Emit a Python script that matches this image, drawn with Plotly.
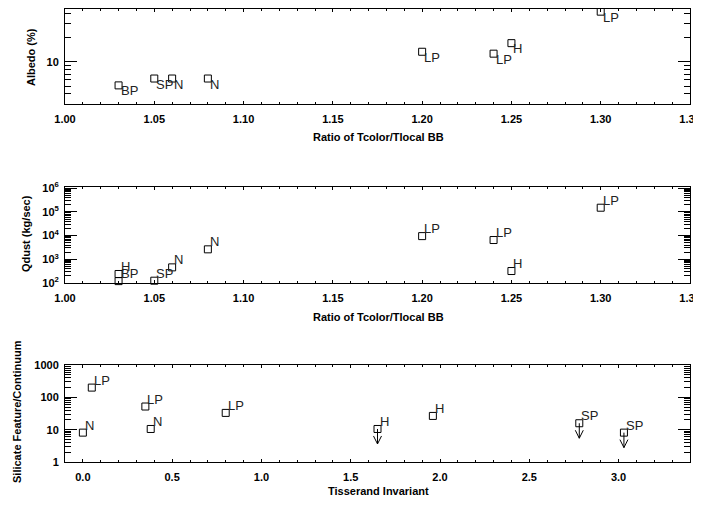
import numpy as np
import plotly.graph_objects as go

# ---------------- data ----------------
# Panel 1: albedo vs ratio of Tcolor/Tlocal BB
alb_ratio = [1.03, 1.05, 1.06, 1.08, 1.20, 1.24, 1.25, 1.30]
alb_value = [5.1, 6.2, 6.2, 6.2, 13.3, 12.6, 17.0, 41.7]
alb_label = ["BP", "SP", "N", "N", "LP", "LP", "H", "LP"]

# Panel 2: dust production vs ratio of Tcolor/Tlocal BB
q_ratio = [1.03, 1.03, 1.05, 1.06, 1.08, 1.20, 1.24, 1.25, 1.30]
q_value = [240, 120, 125, 457, 2630, 9500, 6500, 320, 1.5e5]
q_label = ["H", "BP", "SP", "N", "N", "LP", "LP", "H", "LP"]

# Panel 3: silicate feature/continuum vs Tisserand invariant
tiss = [0.0, 0.05, 0.35, 0.38, 0.80, 1.65, 1.96, 2.78, 3.03]
sil = [8.1, 200, 52, 10.5, 33, 10.5, 26.6, 15.8, 8.1]
sil_label = ["N", "LP", "LP", "N", "LP", "H", "H", "SP", "SP"]
sil_upper = [False, False, False, False, False, True, False, True, True]

ratio_ticks = [1.00, 1.05, 1.10, 1.15, 1.20, 1.25, 1.30, 1.35]
ratio_ticktext = ["1.00", "1.05", "1.10", "1.15", "1.20", "1.25", "1.30", "1.35"]
tiss_ticks = [0.0, 0.5, 1.0, 1.5, 2.0, 2.5, 3.0]
tiss_ticktext = ["0.0", "0.5", "1.0", "1.5", "2.0", "2.5", "3.0"]

alb_yticks = [10]
alb_yticktext = ["10"]
q_yticks = [1e2, 1e3, 1e4, 1e5, 1e6]
q_yticktext = ["10<sup>2</sup>", "10<sup>3</sup>", "10<sup>4</sup>", "10<sup>5</sup>", "10<sup>6</sup>"]
sil_yticks = [1, 10, 100, 1000]
sil_yticktext = ["1", "10", "100", "1000"]


def log_minor(lo_dec, hi_dec):
    return [m * 10.0 ** d for d in range(lo_dec, hi_dec + 1) for m in range(2, 10)]


# ---------------- layout geometry ----------------
# The page body has an 8px default margin, so the figure is offset by 8px;
# all positions below are given in page pixels and converted.
OFF = 8
FW, FH = 701 - OFF, 506 - OFF


def px_x(p):
    return (p - OFF) / FW


def px_y(p):
    return 1 - (p - OFF) / FH


xdom = [px_x(65), px_x(690)]


def ydom(top, bottom):
    return [px_y(bottom), px_y(top)]


FONT = "Liberation Sans"
tickfont = dict(family=FONT, size=11, color="black", weight="bold")
labfont = dict(family=FONT, size=13, color="#222222")

common = dict(showline=True, linecolor="black", linewidth=1, mirror="allticks",
              ticks="inside", tickcolor="black", tickwidth=1, showgrid=False,
              zeroline=False, tickfont=tickfont, automargin=False,
              ticklabeloverflow="allow")

marker = dict(symbol="square-open", size=7, color="black", line=dict(width=1))

fig = go.Figure()
fig.add_trace(go.Scatter(x=alb_ratio, y=alb_value, mode="markers", marker=marker,
                         xaxis="x", yaxis="y", showlegend=False, cliponaxis=False))
fig.add_trace(go.Scatter(x=q_ratio, y=q_value, mode="markers", marker=marker,
                         xaxis="x2", yaxis="y2", showlegend=False, cliponaxis=False))
fig.add_trace(go.Scatter(x=tiss, y=sil, mode="markers", marker=marker,
                         xaxis="x3", yaxis="y3", showlegend=False, cliponaxis=False))

annotations = []


def point_labels(xs, ys, labels, xref, yref, below):
    out = []
    for xv, yv, lab in zip(xs, ys, labels):
        out.append(dict(
            x=xv, y=np.log10(yv), xref=xref, yref=yref, text=lab, showarrow=False,
            font=labfont, xanchor="left", yanchor="top" if below else "bottom",
            xshift=1, yshift=3 if below else -1, borderpad=0))
    return out


annotations += point_labels(alb_ratio, alb_value, alb_label, "x", "y", True)
annotations += point_labels(q_ratio, q_value, q_label, "x2", "y2", False)
annotations += point_labels(tiss, sil, sil_label, "x3", "y3", False)

# upper-limit arrows (pixel-sized paths anchored at the data points)
shapes = []
for xv, yv, up in zip(tiss, sil, sil_upper):
    if up:
        shapes.append(dict(
            type="path", xref="x3", yref="y3", xsizemode="pixel", ysizemode="pixel",
            xanchor=xv, yanchor=yv,
            path="M0,0 L0,-15 M-4,-7 L0,-15 L4,-7",
            line=dict(color="black", width=1)))

titlefont = dict(family=FONT, size=11, color="black", weight="bold")


def ytitle(text, xpx, ypx):
    return dict(text=text, x=px_x(xpx), y=px_y(ypx), xref="paper", yref="paper",
                showarrow=False, textangle=-90, font=titlefont,
                xanchor="center", yanchor="middle")


def xtitle(text, xpx, ypx):
    return dict(text=text, x=px_x(xpx), y=px_y(ypx), xref="paper", yref="paper",
                showarrow=False, font=titlefont, xanchor="center", yanchor="middle")


annotations += [
    ytitle("Albedo (%)", 31, 57),
    ytitle("Qdust (kg/sec)", 26, 234),
    ytitle("Silicate Feature/Continuum", 17, 412),
    xtitle("Ratio of Tcolor/Tlocal BB", 378, 137),
    xtitle("Ratio of Tcolor/Tlocal BB", 378, 317),
    xtitle("Tisserand Invariant", 378, 491),
]

xratio = dict(common, range=[1.0, 1.35], tickmode="array", tickvals=ratio_ticks,
              ticktext=ratio_ticktext, ticklen=3, ticklabelstandoff=5,
              minor=dict(ticks="inside", ticklen=2, tickcolor="black",
                         tickmode="linear", tick0=1.0, dtick=0.01, showgrid=False))

fig.update_layout(
    template="none",
    width=FW, height=FH, autosize=False,
    margin=dict(l=0, r=0, t=0, b=0, pad=0),
    paper_bgcolor="white", plot_bgcolor="white",
    xaxis=dict(xratio, domain=xdom, anchor="y"),
    yaxis=dict(common, type="log", domain=ydom(9, 104), anchor="x",
               range=[np.log10(3.0), np.log10(45)], tickmode="array",
               tickvals=alb_yticks, ticktext=alb_yticktext, ticklen=12,
               ticklabelstandoff=3,
               minor=dict(ticks="inside", ticklen=6, tickcolor="black",
                          tickmode="array", tickvals=log_minor(0, 1), showgrid=False)),
    xaxis2=dict(xratio, domain=xdom, anchor="y2"),
    yaxis2=dict(common, type="log", domain=ydom(187, 283), anchor="x2",
                range=[2.0, 6.05], tickmode="array",
                tickvals=q_yticks, ticktext=q_yticktext, ticklen=12,
                ticklabelstandoff=3,
                minor=dict(ticks="inside", ticklen=6, tickcolor="black",
                           tickmode="array", tickvals=log_minor(2, 5), showgrid=False)),
    xaxis3=dict(common, domain=xdom, anchor="y3", range=[-0.1, 3.4],
                tickmode="array", tickvals=tiss_ticks, ticktext=tiss_ticktext,
                ticklen=3, ticklabelstandoff=5,
                minor=dict(ticks="inside", ticklen=2, tickcolor="black",
                           tickmode="linear", tick0=0.0, dtick=0.1, showgrid=False)),
    yaxis3=dict(common, type="log", domain=ydom(365, 462), anchor="x3",
                range=[0.0, 3.0], tickmode="array",
                tickvals=sil_yticks, ticktext=sil_yticktext, ticklen=12,
                ticklabelstandoff=3,
                minor=dict(ticks="inside", ticklen=6, tickcolor="black",
                           tickmode="array", tickvals=log_minor(0, 2), showgrid=False)),
    annotations=annotations,
    shapes=shapes,
)

fig.write_html("out.html")
